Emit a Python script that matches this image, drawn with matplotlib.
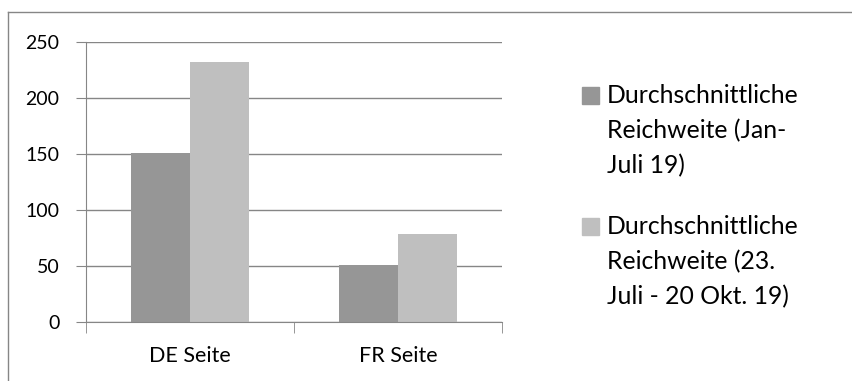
import numpy as np
import matplotlib.pyplot as plt
from matplotlib.patches import Rectangle
from matplotlib.lines import Line2D

categories = ['DE Seite', 'FR Seite']
series_labels = ['Durchschnittliche\nReichweite (Jan-\nJuli 19)',
                 'Durchschnittliche\nReichweite (23.\nJuli - 20 Okt. 19)']
jan_jul = [151, 51]
jul_okt = [232, 79]
colors = ['#969696', '#bfbfbf']
y_ticks = [0, 50, 100, 150, 200, 250]

plt.rcParams['font.family'] = ['Lato', 'DejaVu Sans']

W, H = 853, 381
fig = plt.figure(figsize=(W / 100, H / 100), dpi=100)
ax = fig.add_axes([86 / W, 1 - 322 / H, (502 - 86) / W, (322 - 42) / H])

x = np.arange(len(categories))
width = 0.286
for i, (vals, col) in enumerate(zip([jan_jul, jul_okt], colors)):
    ax.bar(x + (i - 0.5) * width, vals, width, color=col, zorder=2, align='center')

ax.set_xlim(-0.5, len(categories) - 0.5)
ax.set_ylim(0, 250)
ax.set_yticks(y_ticks)
ax.set_xticks(x)
ax.set_xticklabels(categories, fontsize=15.5)
ax.tick_params(axis='y', labelsize=14, length=7, color='#868686', pad=12)
ax.tick_params(axis='x', length=0, pad=17)
# category separators below the axis
ax.set_xticks([-0.5, 0.5, 1.5], minor=True)
ax.tick_params(axis='x', which='minor', length=8, color='#868686')
ax.grid(axis='y', color='#868686', lw=1, zorder=0)
for s in ['top', 'right']:
    ax.spines[s].set_visible(False)
for s in ['left', 'bottom']:
    ax.spines[s].set_color('#868686')

# legend drawn by hand so the squares sit on the first text line
for k, (lab, col) in enumerate(zip(series_labels, colors)):
    top = 87 + k * 131
    fig.patches.append(Rectangle((582 / W, 1 - (top + 17) / H), 17 / W, 17 / H,
                                 transform=fig.transFigure, color=col))
    fig.text(607 / W, 1 - (top - 3) / H, lab, fontsize=17.8, va='top',
             ha='left', linespacing=1.62)

# chart frame edges
fig.lines.append(Line2D([8 / W, 1], [1 - 12 / H] * 2, transform=fig.transFigure,
                        color='#868686', lw=1))
fig.lines.append(Line2D([8 / W] * 2, [0, 1 - 12 / H], transform=fig.transFigure,
                        color='#868686', lw=1))

fig.savefig('out.png', dpi=100)
